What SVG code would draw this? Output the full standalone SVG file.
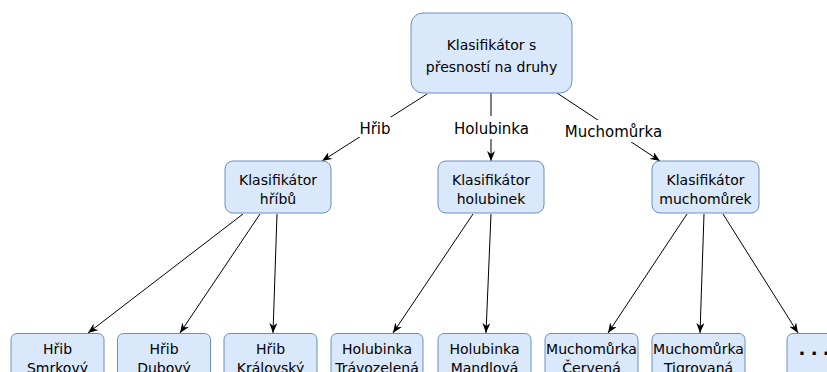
<svg xmlns="http://www.w3.org/2000/svg" width="827" height="372" viewBox="0 0 827 372">
<defs>
<marker id="arr" viewBox="0 0 10 8" refX="10" refY="4" markerWidth="10" markerHeight="8" markerUnits="userSpaceOnUse" orient="auto">
<path d="M0,0 L10,4 L0,8 L3,4 Z" fill="#000"/>
</marker>
</defs>
<style>
.box{fill:#dae8fc;stroke:#6c8ebf;stroke-width:1}
.t{font-family:"DejaVu Sans",sans-serif;font-size:14px;fill:#000;text-anchor:middle}
.lbl{font-family:"DejaVu Sans",sans-serif;font-size:15px;fill:#000;text-anchor:middle}
.e{stroke:#000;stroke-width:1;fill:none;marker-end:url(#arr)}
.bg{fill:#fff}
</style>
<rect width="827" height="372" fill="#fff"/>
<g id="edges">
<line class="e" x1="427" y1="94" x2="322" y2="161"/>
<line class="e" x1="491" y1="93" x2="491" y2="161"/>
<line class="e" x1="557" y1="93" x2="660" y2="161"/>
<line class="e" x1="243" y1="214" x2="88" y2="333"/>
<line class="e" x1="260" y1="214" x2="180" y2="333"/>
<line class="e" x1="277" y1="214" x2="273" y2="333"/>
<line class="e" x1="473" y1="214" x2="393" y2="333"/>
<line class="e" x1="491" y1="214" x2="486" y2="333"/>
<line class="e" x1="687" y1="214" x2="608" y2="333"/>
<line class="e" x1="704" y1="214" x2="700" y2="333"/>
<line class="e" x1="723" y1="214" x2="798" y2="333"/>
<rect class="bg" x="359" y="117" width="32" height="20"/>
<text class="lbl" x="375" y="133.5">Hřib</text>
<rect class="bg" x="453" y="116" width="76" height="23"/>
<text class="lbl" x="491.5" y="133.5">Holubinka</text>
<rect class="bg" x="563" y="120" width="101" height="22"/>
<text class="lbl" x="613.5" y="137">Muchomůrka</text>
</g>
<g id="root">
<rect class="box" x="411" y="13" width="161" height="80" rx="12"/>
<text class="t" x="491.5" y="50">Klasifikátor s</text>
<text class="t" x="491.5" y="71.5">přesností na druhy</text>
</g>
<g id="k-hribu">
<rect class="box" x="225" y="161" width="106" height="52" rx="8"/>
<text class="t" x="278" y="185">Klasifikátor</text>
<text class="t" x="278" y="204">hříbů</text>
</g>
<g id="k-holubinek">
<rect class="box" x="438" y="161" width="106" height="52" rx="8"/>
<text class="t" x="491" y="185">Klasifikátor</text>
<text class="t" x="491" y="204">holubinek</text>
</g>
<g id="k-muchomurek">
<rect class="box" x="652" y="161" width="107" height="52" rx="8"/>
<text class="t" x="705.5" y="185">Klasifikátor</text>
<text class="t" x="705.5" y="204">muchomůrek</text>
</g>
<g id="hrib-smrkovy">
<rect class="box" x="11" y="333.5" width="93" height="52" rx="6"/>
<text class="t" x="57.5" y="353.5">Hřib</text>
<text class="t" x="57.5" y="372.5">Smrkový</text>
</g>
<g id="hrib-dubovy">
<rect class="box" x="117.5" y="333.5" width="93" height="52" rx="6"/>
<text class="t" x="164" y="353.5">Hřib</text>
<text class="t" x="164" y="372.5">Dubový</text>
</g>
<g id="hrib-kralovsky">
<rect class="box" x="224" y="333.5" width="93" height="52" rx="6"/>
<text class="t" x="270.5" y="353.5">Hřib</text>
<text class="t" x="270.5" y="372.5">Královský</text>
</g>
<g id="holubinka-travozelena">
<rect class="box" x="331" y="333.5" width="92" height="52" rx="6"/>
<text class="t" x="377" y="353.5">Holubinka</text>
<text class="t" x="377" y="372.5">Trávozelená</text>
</g>
<g id="holubinka-mandlova">
<rect class="box" x="438" y="333.5" width="93" height="52" rx="6"/>
<text class="t" x="484.5" y="353.5">Holubinka</text>
<text class="t" x="484.5" y="372.5">Mandlová</text>
</g>
<g id="muchomurka-cervena">
<rect class="box" x="545" y="333.5" width="93" height="52" rx="6"/>
<text class="t" x="591.5" y="353.5">Muchomůrka</text>
<text class="t" x="591.5" y="372.5">Červená</text>
</g>
<g id="muchomurka-tigrovana">
<rect class="box" x="652" y="333.5" width="93" height="52" rx="6"/>
<text class="t" x="698.5" y="353.5">Muchomůrka</text>
<text class="t" x="698.5" y="372.5">Tigrovaná</text>
</g>
<g id="more">
<rect class="box" x="787" y="333.5" width="93" height="52" rx="6"/>
<text x="798.5" y="355" style="font-family:'DejaVu Sans',sans-serif;font-size:18px;font-weight:bold;letter-spacing:5.3px;fill:#000">...</text>
</g>
</svg>
